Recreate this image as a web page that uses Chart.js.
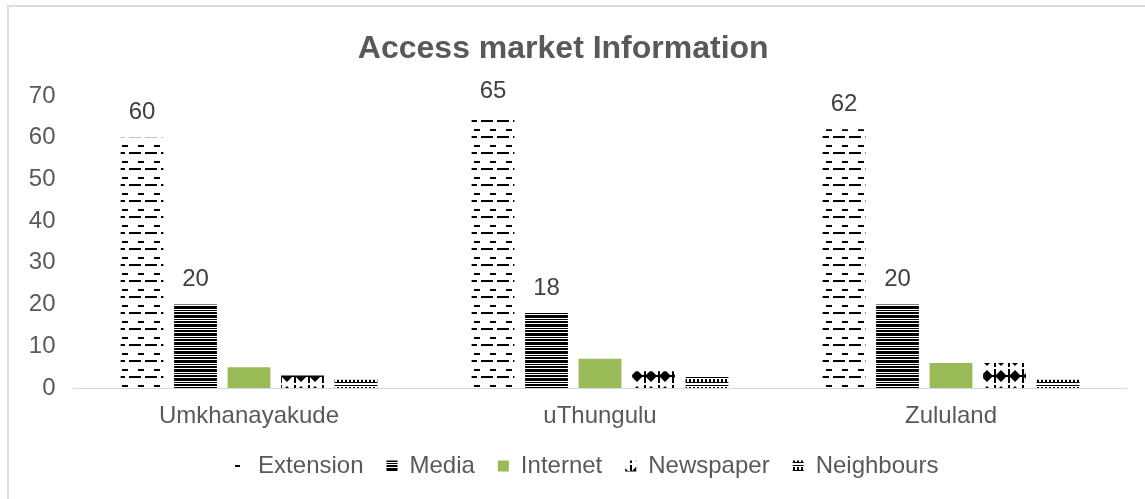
<!DOCTYPE html>
<html>
<head>
<meta charset="utf-8">
<script src="https://cdn.jsdelivr.net/npm/chart.js@4.4.1/dist/chart.umd.min.js"></script>
<style>
  html, body { margin: 0; padding: 0; background: #fff; overflow: hidden; }
  #wrap { position: relative; width: 1145px; height: 499px; }
  #frame { position: absolute; left: 7px; top: 5px; width: 1200px; height: 600px; border-left: 2px solid #dcdcdc; border-top: 2px solid #dcdcdc; box-sizing: border-box; }
  canvas { display: block; position: absolute; left: 0; top: 0; }
</style>
</head>
<body>
<div id="wrap"><div id="frame"></div><canvas id="c" width="1145" height="499"></canvas></div>
<script>
const categories = ["Umkhanayakude", "uThungulu", "Zululand"];
const seriesNames = ["Extension", "Media", "Internet", "Newspaper", "Neighbours"];
const extension = [60, 65, 62];
const media = [20, 18, 20];
const internet = [5, 7, 6];
const newspaper = [3, 4, 6];
const neighbours = [2, 3, 2];
const labelledSeries = [0, 1];

const FONT = '"Liberation Sans", Arial, sans-serif';

function makePattern(kind) {
  const cv = document.createElement('canvas');
  const ctx = cv.getContext('2d');
  if (kind === 'extension') {
    cv.width = 16; cv.height = 16;
    ctx.fillStyle = '#fff'; ctx.fillRect(0, 0, 16, 16);
    ctx.fillStyle = '#000';
    ctx.fillRect(10, 1, 6, 2);
    ctx.fillRect(1, 8, 12, 2);
  } else if (kind === 'media') {
    cv.width = 8; cv.height = 9;
    ctx.fillStyle = '#fff'; ctx.fillRect(0, 0, 8, 9);
    ctx.fillStyle = '#000';
    ctx.fillRect(0, 0, 8, 3); ctx.fillRect(0, 4, 8, 1); ctx.fillRect(0, 6, 8, 2);
  } else if (kind === 'newspaper') {
    cv.width = 14; cv.height = 16;
    ctx.fillStyle = '#fff'; ctx.fillRect(0, 0, 14, 16);
    ctx.fillStyle = '#000';
    ctx.beginPath(); ctx.moveTo(7, 2); ctx.lineTo(13, 8); ctx.lineTo(7, 14); ctx.lineTo(1, 8); ctx.closePath(); ctx.fill();
    ctx.fillRect(0, 1, 2, 14); ctx.fillRect(0, 7, 14, 2);
  } else if (kind === 'neighbours') {
    cv.width = 8; cv.height = 8;
    ctx.fillStyle = '#fff'; ctx.fillRect(0, 0, 8, 8);
    ctx.fillStyle = '#000';
    ctx.fillRect(0, 1, 8, 1); ctx.fillRect(1, 3, 2, 3); ctx.fillRect(5, 3, 2, 3); ctx.fillRect(0, 6, 8, 1);
  }
  return ctx.createPattern(cv, 'repeat');
}

const fills = [makePattern('extension'), makePattern('media'), '#9BBB59', makePattern('newspaper'), makePattern('neighbours')];
const values = [extension, media, internet, newspaper, neighbours];

const labelPlugin = {
  id: 'barLabels',
  afterLayout(chart) {
    if (chart.legend) { chart.legend.left += 23.5; chart.legend.right += 23.5; }
  },
  afterDatasetsDraw(chart) {
    const ctx = chart.ctx;
    ctx.save();
    ctx.font = '24px ' + FONT;
    ctx.fillStyle = '#404040';
    ctx.textAlign = 'center';
    ctx.textBaseline = 'middle';
    labelledSeries.forEach(di => {
      const meta = chart.getDatasetMeta(di);
      meta.data.forEach((bar, i) => {
        ctx.fillText(String(chart.data.datasets[di].data[i]), bar.x, bar.y - 25);
      });
    });
    ctx.restore();
  }
};

new Chart(document.getElementById('c'), {
  type: 'bar',
  data: {
    labels: categories,
    datasets: seriesNames.map((name, i) => ({
      label: name,
      data: values[i],
      backgroundColor: fills[i],
      borderWidth: 0,
      categoryPercentage: 0.762,
      barPercentage: 0.8
    }))
  },
  plugins: [labelPlugin],
  options: {
    responsive: false,
    animation: false,
    layout: { padding: { left: 0, right: 18.5, top: 0, bottom: 11 } },
    plugins: {
      title: {
        display: true,
        text: 'Access market Information',
        color: '#595959',
        font: { family: FONT, size: 32, weight: 'bold' },
        padding: { top: 30, bottom: 27.6 }
      },
      legend: {
        position: 'bottom',
        labels: {
          color: '#595959',
          font: { family: FONT, size: 24 },
          boxWidth: 11, boxHeight: 11, padding: 23
        }
      },
      tooltip: { enabled: false }
    },
    scales: {
      x: {
        grid: { display: false, drawTicks: false },
        border: { display: true, color: '#d9d9d9', width: 1 },
        ticks: { color: '#595959', font: { family: FONT, size: 24 }, padding: 14 },
        afterFit(scale) { scale.height = 43; }
      },
      y: {
        min: 0, max: 70,
        grid: { display: false, drawTicks: false },
        border: { display: false },
        ticks: { stepSize: 10, color: '#595959', font: { family: FONT, size: 24 }, padding: 18 },
        afterFit(scale) { scale.width = 73.5; }
      }
    }
  }
});
</script>
</body>
</html>
